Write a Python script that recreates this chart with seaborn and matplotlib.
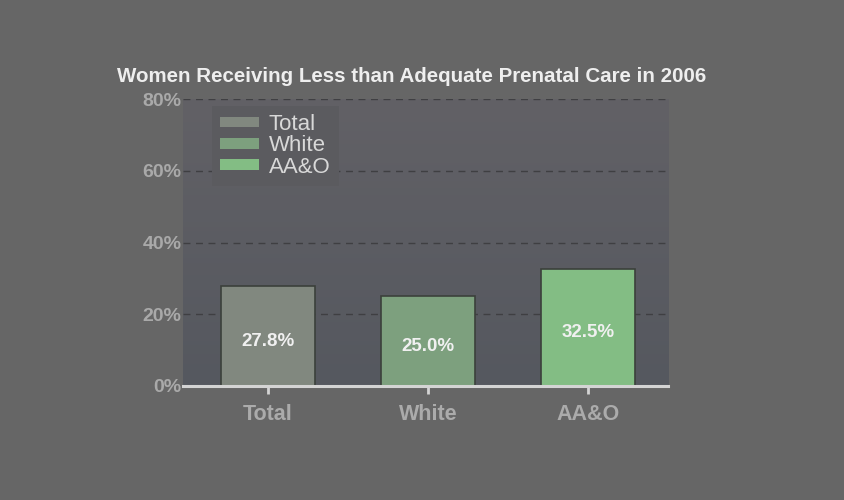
import numpy as np
import pandas as pd
import matplotlib
matplotlib.use("Agg")
import matplotlib.pyplot as plt
import seaborn as sns
from matplotlib.ticker import FuncFormatter
from matplotlib.colors import LinearSegmentedColormap

categories = ["Total", "White", "AA&O"]
values = [27.8, 25.0, 32.5]
yticks = [0, 20, 40, 60, 80]
title = "Women Receiving Less than Adequate Prenatal Care in 2006"

colors = ["#808a7d", "#77a678", "#79c77a"]

sns.set_theme(style="white")
plt.rcParams['font.family'] = ['Liberation Sans', 'DejaVu Sans']

fig = plt.figure(figsize=(8.44, 5.0), dpi=100)
fig.patch.set_facecolor("#666666")
ax = fig.add_axes([0.2168, 0.228, 0.5747, 0.574])

df = pd.DataFrame({"cat": categories, "val": values})
sns.barplot(data=df, x="cat", y="val", hue="cat", palette=colors, dodge=False,
            width=0.59, edgecolor="#3b403b", linewidth=1.2, legend=True, ax=ax, zorder=3)

ax.set_xlim(-0.53, 2.5)
ax.set_ylim(0, 80)

# gradient background
grad = np.linspace(0, 1, 256).reshape(-1, 1)
cmap = LinearSegmentedColormap.from_list("bg", ["#55585f", "#626166"])
ax.imshow(grad, extent=[-0.53, 2.5, 0, 80], aspect="auto", cmap=cmap,
          origin="lower", zorder=0)
ax.set_facecolor("#5e5e62")

ax.set_yticks(yticks)
ax.yaxis.set_major_formatter(FuncFormatter(lambda v, p: f"{int(v)}%"))
ax.grid(axis="y", linestyle=(0, (5, 4)), color="#3f3f42", linewidth=1.0, zorder=1)
ax.set_axisbelow(True)

for s in ["top", "right", "left"]:
    ax.spines[s].set_visible(False)
ax.spines["bottom"].set_color("#d4d4d4")
ax.spines["bottom"].set_linewidth(2.2)
ax.spines["bottom"].set_zorder(5)

ax.tick_params(axis="x", colors="#d4d4d4", length=6, width=2, direction="out",
               labelsize=15.5, labelcolor="#ababab", pad=7, bottom=True)
ax.tick_params(axis="y", length=0, labelsize=14, labelcolor="#a9a9a9", pad=1)
for lab in ax.get_xticklabels() + ax.get_yticklabels():
    lab.set_fontweight("bold")
ax.set_xlabel("")
ax.set_ylabel("")

for i, v in enumerate(values):
    ax.text(i, v / 2 - 1.4, f"{v:.1f}%", ha="center", va="center",
            color="#f0f0f0", fontsize=13.5, fontweight="bold", zorder=6)

leg = ax.legend(loc="upper left", bbox_to_anchor=(0.06, 0.976), frameon=True,
                fontsize=16, handlelength=1.75, handleheight=0.36, labelspacing=0.02,
                borderpad=0.36, handletextpad=0.45, borderaxespad=0)
leg.get_frame().set_facecolor("#5b5b5f")
leg.get_frame().set_edgecolor("none")
leg.get_frame().set_alpha(1)
leg.get_frame().set_boxstyle("square", pad=0)
for t in leg.get_texts():
    t.set_color("#d8d8d8")
for h in leg.legend_handles:
    h.set_edgecolor("none")

fig.text(0.488, 0.848, title, ha="center", va="center", color="#eeeeee",
         fontsize=14.8, fontweight="bold")

fig.savefig("out.png", dpi=100, facecolor=fig.get_facecolor())
